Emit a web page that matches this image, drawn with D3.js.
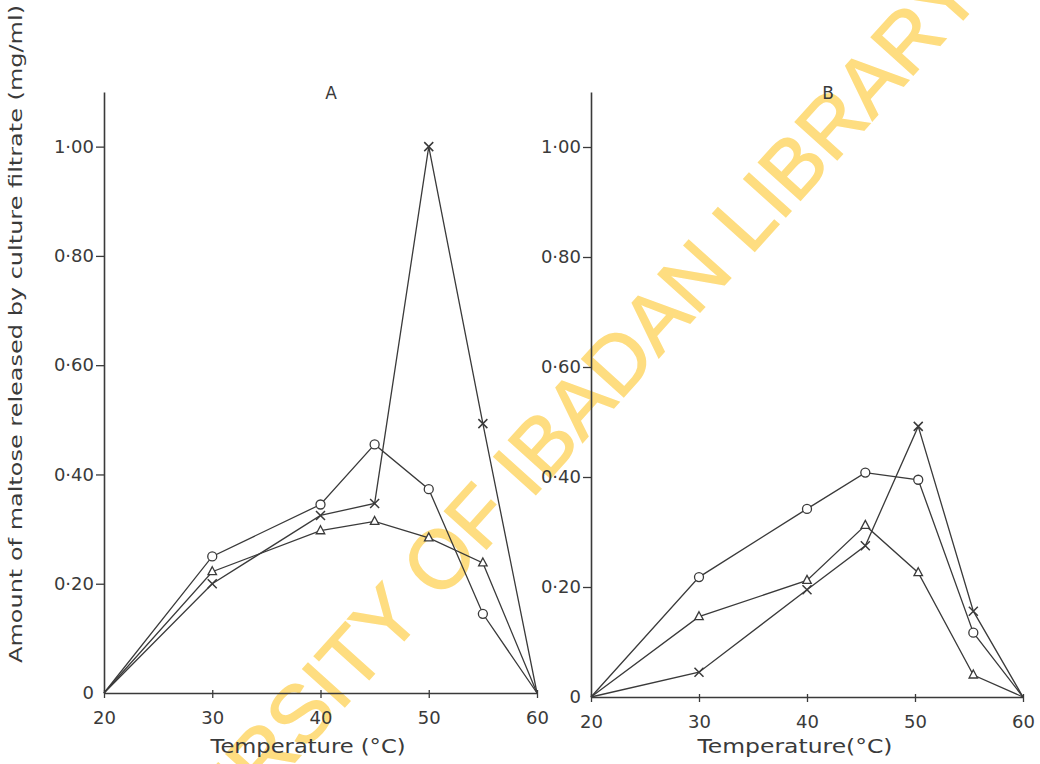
<!DOCTYPE html>
<html lang="en">
<head>
    <meta charset="UTF-8">
    <title>Maltose released vs temperature</title>
    <script src="https://d3js.org/d3.v7.min.js"></script>
    <style>
        body { margin: 0; background: #fff; }
        text { font-family: "DejaVu Sans", sans-serif; fill: #3a3a3a; }
    </style>
</head>
<body>
    <div id="chart"></div>
    <script>
        // values
        const tempsA = [20, 30, 40, 45, 50, 55, 60];
        const circleA = [0, 0.25, 0.345, 0.455, 0.373, 0.145, 0];
        const crossA = [0, 0.20, 0.325, 0.347, 1.00, 0.493, 0];
        const triangleA = [0, 0.222, 0.297, 0.314, 0.284, 0.238, 0];

        const tempsB = [20, 30, 40, 45.4, 50.3, 55.4, 60];
        const circleB = [0, 0.218, 0.342, 0.408, 0.395, 0.117, 0];
        const triangleB = [0, 0.146, 0.212, 0.312, 0.226, 0.04, 0];
        const crossB = [0, 0.045, 0.195, 0.275, 0.492, 0.156, 0];

        const xTicks = [20, 30, 40, 50, 60];
        const yTicks = [0, 0.2, 0.4, 0.6, 0.8, 1.0];
        const yTickLabels = ['0', '0·20', '0·40', '0·60', '0·80', '1·00'];

        const width = 1040, height = 764;
        const ink = '#3a3a3a';

        const svg = d3.select('#chart').append('svg')
            .attr('width', width)
            .attr('height', height);

        svg.append('rect').attr('width', width).attr('height', height).attr('fill', '#fff');

        // watermark behind the plot (runs off the page edges like the scan)
        svg.append('text')
            .attr('transform', 'translate(518,470) rotate(-48)')
            .attr('text-anchor', 'middle')
            .attr('dy', '0.36em')
            .style('font-family', '"Liberation Sans", Arial, sans-serif')
            .style('font-size', '82px')
            .style('fill', '#fedd80')
            .style('stroke', '#fedd80')
            .style('stroke-width', 1.5)
            .text('UNIVERSITY OF IBADAN LIBRARY');

        function marker(g, type, x, y) {
            if (type === 'circle') {
                g.append('circle').attr('cx', x).attr('cy', y).attr('r', 4.5)
                    .attr('fill', '#fff').attr('stroke', ink).attr('stroke-width', 1.3);
            } else if (type === 'triangle') {
                const s = 5;
                g.append('path')
                    .attr('d', `M${x},${y - s}L${x + s * 0.85},${y + s * 0.6}L${x - s * 0.85},${y + s * 0.6}Z`)
                    .attr('fill', '#fff').attr('stroke', ink).attr('stroke-width', 1.3);
            } else {
                const s = 4.5;
                g.append('path')
                    .attr('d', `M${x - s},${y - s}L${x + s},${y + s}M${x + s},${y - s}L${x - s},${y + s}`)
                    .attr('stroke', ink).attr('stroke-width', 1.5);
            }
        }

        function panel(cfg) {
            const x = d3.scaleLinear().domain([20, 60]).range(cfg.xRange);
            const y = d3.scaleLinear().domain([0, 1.1]).range(cfg.yRange);
            const g = svg.append('g');

            // y axis
            const yAxis = g.append('g')
                .attr('transform', `translate(${cfg.xRange[0]},0)`)
                .call(d3.axisLeft(y).tickValues(yTicks.slice(1))
                    .tickFormat((d, i) => yTickLabels[i + 1])
                    .tickSize(8).tickSizeOuter(0).tickPadding(2));
            yAxis.select('.domain').attr('stroke', ink).attr('stroke-width', 1.6);
            yAxis.selectAll('.tick line').attr('stroke', ink).attr('stroke-width', 1.3);
            yAxis.selectAll('.tick text').style('font-size', '18px').attr('fill', ink);

            // zero label sits at the corner
            g.append('text')
                .attr('x', cfg.xRange[0] - 10)
                .attr('y', y(0) + 6)
                .attr('text-anchor', 'end')
                .style('font-size', '18px')
                .text(yTickLabels[0]);

            // x axis
            const xAxis = g.append('g')
                .attr('transform', `translate(0,${y(0)})`)
                .call(d3.axisBottom(x).tickValues(xTicks).tickFormat(d3.format('d'))
                    .tickSize(5).tickSizeOuter(0).tickPadding(13));
            xAxis.select('.domain').attr('stroke', ink).attr('stroke-width', 1.4);
            xAxis.selectAll('.tick line').attr('stroke', ink).attr('stroke-width', 1.3)
                .attr('y1', -3);
            xAxis.selectAll('.tick text').style('font-size', '18px').attr('fill', ink);

            g.append('text')
                .attr('x', cfg.titleX).attr('y', 753)
                .attr('text-anchor', 'middle')
                .attr('textLength', cfg.titleLen)
                .attr('lengthAdjust', 'spacingAndGlyphs')
                .style('font-size', '19px')
                .text(cfg.xTitle);

            g.append('text')
                .attr('x', cfg.letterX).attr('y', 99)
                .attr('text-anchor', 'middle')
                .style('font-size', '17px')
                .text(cfg.letter);

            const line = d3.line().x(d => x(d[0])).y(d => y(d[1]));

            cfg.series.forEach(s => {
                const pts = cfg.temps.map((t, i) => [t, s.values[i]]);
                g.append('path')
                    .attr('d', line(pts))
                    .attr('fill', 'none')
                    .attr('stroke', ink)
                    .attr('stroke-width', 1.3);
            });
            cfg.series.forEach(s => {
                cfg.temps.forEach((t, i) => {
                    if (i === 0 || i === cfg.temps.length - 1) return;
                    marker(g, s.type, x(t), y(s.values[i]));
                });
            });
        }

        panel({
            xRange: [104, 537], yRange: [693, 92],
            temps: tempsA, letter: 'A', letterX: 331, titleX: 308, titleLen: 195,
            xTitle: 'Temperature  (°C)',
            series: [
                { type: 'circle', values: circleA },
                { type: 'cross', values: crossA },
                { type: 'triangle', values: triangleA }
            ]
        });

        panel({
            xRange: [591, 1023], yRange: [697, 92],
            temps: tempsB, letter: 'B', letterX: 828, titleX: 795, titleLen: 195,
            xTitle: 'Temperature(°C)',
            series: [
                { type: 'circle', values: circleB },
                { type: 'triangle', values: triangleB },
                { type: 'cross', values: crossB }
            ]
        });

        // shared y title
        svg.append('text')
            .attr('transform', 'translate(22,334) rotate(-90)')
            .attr('text-anchor', 'middle')
            .attr('textLength', 658)
            .attr('lengthAdjust', 'spacingAndGlyphs')
            .style('font-size', '18px')
            .text('Amount of maltose released by culture filtrate (mg/ml)');
    </script>
</body>
</html>
